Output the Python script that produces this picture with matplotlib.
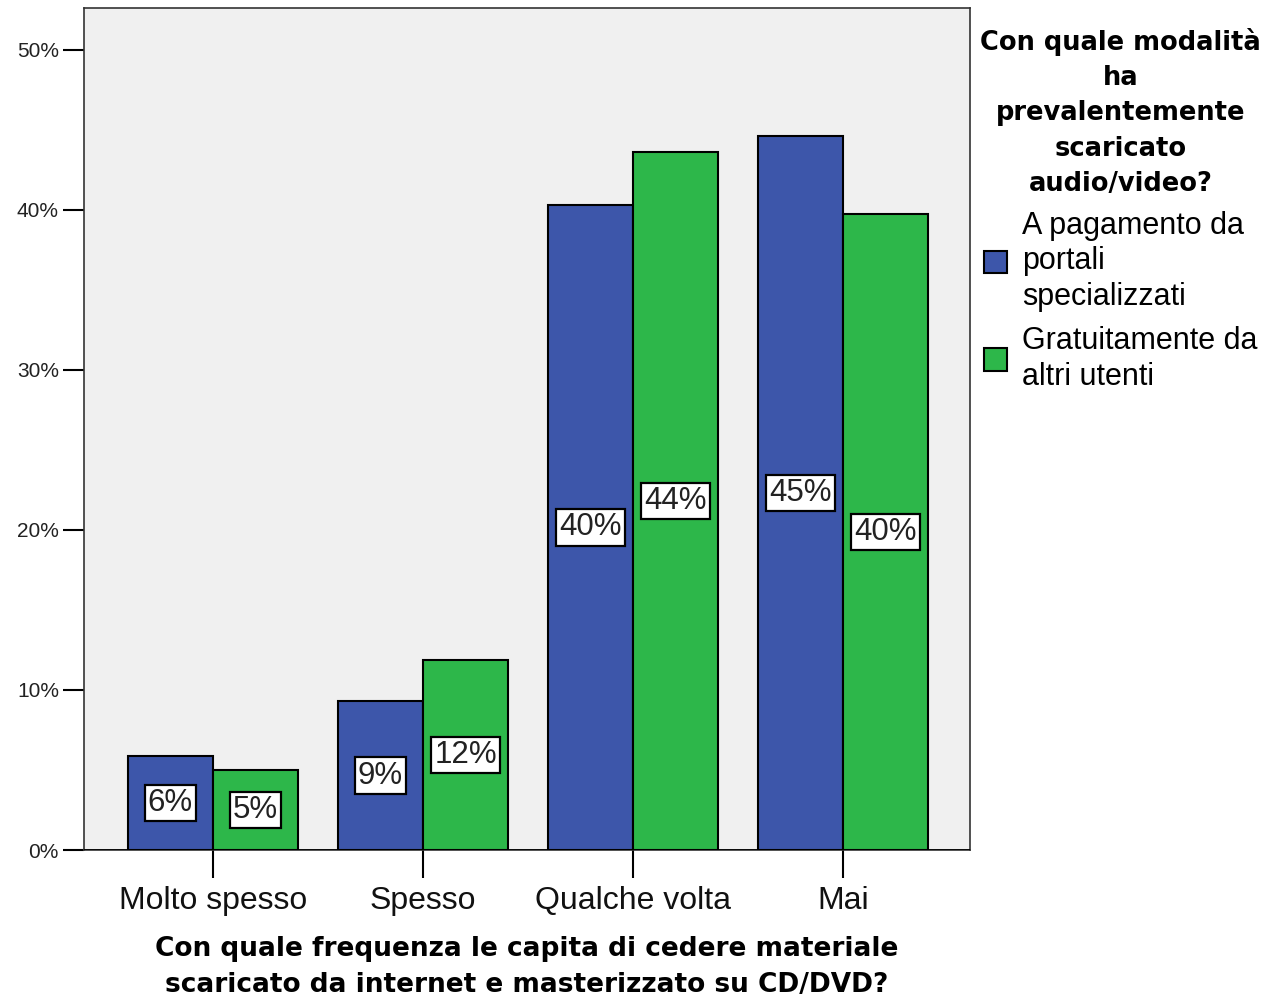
import numpy as np
import matplotlib.pyplot as plt
from matplotlib.patches import Patch

categories = ["Molto spesso", "Spesso", "Qualche volta", "Mai"]
series_names = ["A pagamento da\nportali\nspecializzati",
                "Gratuitamente da\naltri utenti"]
pagamento = [5.9, 9.3, 40.3, 44.6]
gratuito = [5.0, 11.9, 43.6, 39.7]
pag_labels = ["6%", "9%", "40%", "45%"]
grat_labels = ["5%", "12%", "44%", "40%"]
yticks = [0, 10, 20, 30, 40, 50]

blue = "#3D56AA"
green = "#2DB74A"
lab_font = "Liberation Sans"
bold_font = "DejaVu Sans"

fig = plt.figure(figsize=(12.7, 10), dpi=100)
ax = fig.add_axes([0.0661, 0.15, 0.6977, 0.842])
ax.set_facecolor("#F0F0F0")

x = np.arange(len(categories))
w = 0.405
b1 = ax.bar(x - w / 2, pagamento, w, color=blue, edgecolor="black", linewidth=1.5, zorder=3)
b2 = ax.bar(x + w / 2, gratuito, w, color=green, edgecolor="black", linewidth=1.5, zorder=3)

for bars, labs in [(b1, pag_labels), (b2, grat_labels)]:
    for r, t in zip(bars, labs):
        ax.text(r.get_x() + r.get_width() / 2, r.get_height() / 2, t,
                ha="center", va="center", fontsize=22.5, family=lab_font,
                color="#222222", zorder=4,
                bbox=dict(boxstyle="square,pad=0.1", fc="white", ec="black", lw=1.6))

ax.axhline(0, color="black", lw=1.2, zorder=4)
ax.set_xlim(-0.614, 3.605)
ax.set_ylim(0, 52.6)
ax.set_yticks(yticks)
ax.set_yticklabels([f"{v}%" for v in yticks], fontsize=15, family=lab_font, color="#222222")
ax.set_xticks(x)
ax.set_xticklabels(categories, fontsize=23, family=lab_font, color="#111111")
ax.tick_params(axis="y", length=15, width=1.5, pad=3)
ax.tick_params(axis="x", length=20, width=1.5, pad=6)
for s in ax.spines.values():
    s.set_color("#333333")
    s.set_linewidth(1.2)

ax.set_xlabel("Con quale frequenza le capita di cedere materiale\n"
              "scaricato da internet e masterizzato su CD/DVD?",
              fontsize=19, fontweight="bold", family=bold_font, labelpad=14,
              linespacing=1.5)

handles = [Patch(facecolor=blue, edgecolor="black", lw=1.5),
           Patch(facecolor=green, edgecolor="black", lw=1.5)]
leg = fig.legend(handles, series_names,
                 title="Con quale modalità\nha\nprevalentemente\nscaricato\naudio/video?",
                 loc="upper left", bbox_to_anchor=(0.772, 0.972), frameon=False,
                 prop={"family": lab_font, "size": 22},
                 title_fontproperties={"family": bold_font, "weight": "bold", "size": 18.5},
                 handlelength=0.75, handleheight=0.75, handletextpad=0.5,
                 labelspacing=0.45, borderaxespad=0, borderpad=0)
leg.get_title().set_multialignment("center")
leg.get_title().set_linespacing(1.46)
for t in leg.get_texts():
    t.set_linespacing(1.25)

fig.savefig("out.png", dpi=100)
